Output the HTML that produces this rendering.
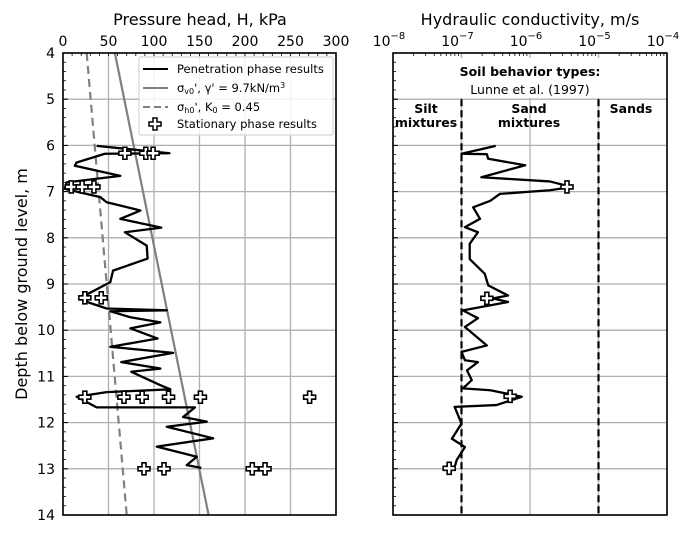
<!DOCTYPE html>
<html><head><meta charset="utf-8"><style>
body{margin:0;background:#fff;}
svg{display:block;font-family:"DejaVu Sans","Liberation Sans",sans-serif;}
</style></head><body>
<svg id="c" width="693" height="533" viewBox="0 0 693 533"></svg>
<script>
const pDepth=[6.01,6.17,6.18,6.37,6.44,6.66,6.80,6.94,7.12,7.23,7.41,7.59,7.78,7.88,8.17,8.45,8.71,8.96,9.25,9.36,9.53,9.57,9.59,9.72,9.83,9.96,10.18,10.36,10.49,10.69,10.83,10.90,11.19,11.28,11.34,11.44,11.67,11.67,11.88,11.98,12.09,12.34,12.52,12.74,12.92,12.98];
const pH=[37,117,46,15,13,63,4,2,41,48,85,63,108,68,92,93,55,52,24,22,48,114,52,74,107,74,104,52,121,64,107,75,107,118,48,15,37,145,132,158,114,165,103,147,136,152];
const sDepth=[6.17,6.17,6.17,6.9,6.9,6.9,9.3,9.3,11.45,11.45,11.45,11.45,11.45,11.45,13,13,13,13];
const sH=[68,91,99,9,21,34,24,42,24,67,87,116,151,271,89,111,208,222];
const svLine=[[4,57],[14,160]];
const shLine=[[4,26],[14,70]];
const kDepth=[6.01,6.18,6.19,6.29,6.43,6.69,6.78,6.90,6.97,7.05,7.20,7.34,7.59,7.77,7.88,8.13,8.46,8.78,9.03,9.25,9.31,9.39,9.57,9.74,9.93,10.33,10.47,10.65,10.69,10.87,11.08,11.26,11.30,11.44,11.62,11.66,12.02,12.35,12.53,12.81,12.96];
const kLog=[-6.50,-7.00,-6.63,-6.61,-6.07,-6.71,-5.71,-5.39,-5.71,-6.44,-6.58,-6.83,-6.73,-6.95,-6.76,-6.88,-6.88,-6.66,-6.61,-6.32,-6.54,-6.32,-6.98,-6.76,-6.95,-6.63,-7.00,-6.95,-6.76,-6.92,-6.85,-6.98,-6.58,-6.12,-6.49,-7.10,-7.00,-7.14,-6.95,-7.07,-7.10];
const ksDepth=[6.90,9.31,11.43,12.99];
const ksLog=[-5.46,-6.63,-6.29,-7.18];
const xTicks=[0,50,100,150,200,250,300];
const yTicks=[4,5,6,7,8,9,10,11,12,13,14];
const kTicks=[-8,-7,-6,-5,-4];

const L={x0:63,x1:336},R={x0:393,x1:667},T=53,B=515;
const yS=d=>T+(d-4)/10*(B-T);
const xS=h=>L.x0+h/300*(L.x1-L.x0);
const kS=l=>R.x0+(l+8)/4*(R.x1-R.x0);
const svg=document.getElementById('c');
const NS='http://www.w3.org/2000/svg';
function el(t,a,txt){const e=document.createElementNS(NS,t);for(const k in a)e.setAttribute(k,a[k]);if(txt!==undefined)e.textContent=txt;svg.appendChild(e);return e;}
function cross(x,y){return `M${x-2},${y-6}h4v4h4v4h-4v4h-4v-4h-4v-4h4z`;}

yTicks.forEach(d=>{
 let g=el('line',{x1:L.x0,x2:L.x1,y1:yS(d),y2:yS(d),stroke:'#b0b0b0','stroke-width':1.3});
 
 g=el('line',{x1:R.x0,x2:R.x1,y1:yS(d),y2:yS(d),stroke:'#b0b0b0','stroke-width':1.3});
 
});
xTicks.forEach(v=>{
 const g=el('line',{x1:xS(v),x2:xS(v),y1:T,y2:B,stroke:'#b0b0b0','stroke-width':1.3});
 
 const t=el('text',{x:xS(v),y:46,'font-size':14,'text-anchor':'middle',fill:'#000'},String(v));
 
});
kTicks.forEach(v=>{
 const g=el('line',{x1:kS(v),x2:kS(v),y1:T,y2:B,stroke:'#b0b0b0','stroke-width':1.3});
 
 const t=el('text',{x:kS(v)-4,y:46,'font-size':14,'text-anchor':'middle',fill:'#000'});
 
 t.innerHTML='10<tspan dy="-7" font-size="10">\u2212'+Math.abs(v)+'</tspan>';
 for(let m=2;m<10&&v<-4;m++){const x=kS(v+Math.log10(m));el('line',{x1:x,x2:x,y1:T,y2:T+3,stroke:'#000','stroke-width':0.8});}
});
yTicks.forEach(d=>{
 const t=el('text',{x:55,y:yS(d)+5,'font-size':14,'text-anchor':'end',fill:'#000'},String(d));
 
 el('line',{x1:L.x0,x2:L.x0+5,y1:yS(d),y2:yS(d),stroke:'#000','stroke-width':1});
 el('line',{x1:R.x0,x2:R.x0+5,y1:yS(d),y2:yS(d),stroke:'#000','stroke-width':1});
});
for(let d=4.2;d<14;d+=0.2){el('line',{x1:L.x0,x2:L.x0+3,y1:yS(d),y2:yS(d),stroke:'#000','stroke-width':0.8});el('line',{x1:R.x0,x2:R.x0+3,y1:yS(d),y2:yS(d),stroke:'#000','stroke-width':0.8});}
for(let v=10;v<300;v+=10){el('line',{x1:xS(v),x2:xS(v),y1:T,y2:T+3,stroke:'#000','stroke-width':0.8});}

[-7,-5].forEach(v=>{const g=el('line',{x1:kS(v),x2:kS(v),y1:yS(5),y2:B,stroke:'#000','stroke-width':2.2,'stroke-dasharray':'7,4'});});

let g=el('line',{x1:xS(svLine[0][1]),y1:yS(svLine[0][0]),x2:xS(svLine[1][1]),y2:yS(svLine[1][0]),stroke:'#808080','stroke-width':2.2});

g=el('line',{x1:xS(shLine[0][1]),y1:yS(shLine[0][0]),x2:xS(shLine[1][1]),y2:yS(shLine[1][0]),stroke:'#808080','stroke-width':2.2,'stroke-dasharray':'8,5'});

g=el('path',{d:'M'+pDepth.map((d,i)=>xS(pH[i])+','+yS(d)).join('L'),fill:'none',stroke:'#000','stroke-width':2.3,'stroke-linejoin':'round'});

sDepth.forEach((d,i)=>{const c=el('path',{d:cross(xS(sH[i]),yS(d)),fill:'#fff',stroke:'#000','stroke-width':1.6});});

g=el('path',{d:'M'+kDepth.map((d,i)=>kS(kLog[i])+','+yS(d)).join('L'),fill:'none',stroke:'#000','stroke-width':2.3,'stroke-linejoin':'round'});

ksDepth.forEach((d,i)=>{const c=el('path',{d:cross(kS(ksLog[i]),yS(d)),fill:'#fff',stroke:'#000','stroke-width':1.6});});

g=el('rect',{x:L.x0,y:T,width:L.x1-L.x0,height:B-T,fill:'none',stroke:'#000','stroke-width':1.6});

g=el('rect',{x:R.x0,y:T,width:R.x1-R.x0,height:B-T,fill:'none',stroke:'#000','stroke-width':1.6});

</script>
<svg style="position:absolute;left:0;top:0" width="693" height="533">
<g font-family="DejaVu Sans, Liberation Sans, sans-serif">
<text x="200" y="25" font-size="16" text-anchor="middle">Pressure head, H, kPa</text>
<text x="530" y="25" font-size="16" text-anchor="middle">Hydraulic conductivity, m/s</text>
<text transform="translate(27,284) rotate(-90)" font-size="16" text-anchor="middle">Depth below ground level, m</text>
<g>
<rect x="139" y="57" width="194" height="78" fill="#fff" fill-opacity="0.85" stroke="#ccc" rx="2"/>
<line x1="143" y1="69" x2="168" y2="69" stroke="#000" stroke-width="2"/>
<text x="177" y="73" font-size="11.5">Penetration phase results</text>
<line x1="143" y1="88" x2="168" y2="88" stroke="#808080" stroke-width="2"/>
<text x="177" y="92" font-size="11.5">σ<tspan font-size="8" dy="2">v0</tspan><tspan dy="-2">', γ' = 9.7kN/m</tspan><tspan font-size="8" dy="-4">3</tspan></text>
<line x1="143" y1="107" x2="168" y2="107" stroke="#808080" stroke-width="2" stroke-dasharray="7,4"/>
<text x="177" y="111" font-size="11.5">σ<tspan font-size="8" dy="2">h0</tspan><tspan dy="-2">', K</tspan><tspan font-size="8" dy="2">0</tspan><tspan dy="-2"> = 0.45</tspan></text>
<path d="M153,118h4v4h4v4h-4v4h-4v-4h-4v-4h4z" fill="#fff" stroke="#000" stroke-width="1.5"/>
<text x="177" y="128" font-size="11.5">Stationary phase results</text>
</g>
<rect x="396" y="58" width="268" height="40" fill="#fff"/>
<text x="530" y="76" font-size="12.5" font-weight="bold" text-anchor="middle">Soil behavior types:</text>
<text x="530" y="94" font-size="12.5" text-anchor="middle">Lunne et al. (1997)</text>
<text x="426" y="113" font-size="12.5" font-weight="bold" text-anchor="middle">Silt</text>
<text x="426" y="127" font-size="12.5" font-weight="bold" text-anchor="middle">mixtures</text>
<text x="529" y="113" font-size="12.5" font-weight="bold" text-anchor="middle">Sand</text>
<text x="529" y="127" font-size="12.5" font-weight="bold" text-anchor="middle">mixtures</text>
<text x="631" y="113" font-size="12.5" font-weight="bold" text-anchor="middle">Sands</text>
</g></svg>
</body></html>
